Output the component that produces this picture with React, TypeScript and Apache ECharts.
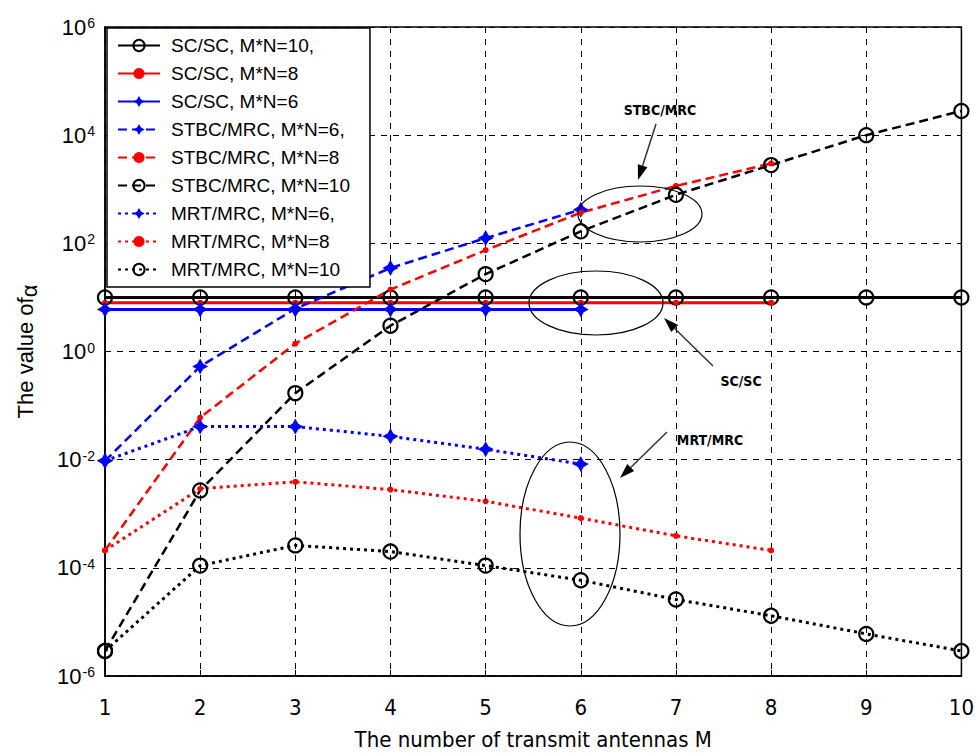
import React, { useEffect, useRef } from "react";
import * as echarts from "echarts";

const M = [1, 2, 3, 4, 5, 6, 7, 8, 9, 10];
const xTicks = ["1", "2", "3", "4", "5", "6", "7", "8", "9", "10"];

const scsc10 = [10, 10, 10, 10, 10, 10, 10, 10, 10, 10];
const scsc8 = [8, 8, 8, 8, 8, 8, 8, 8];
const scsc6 = [6, 6, 6, 6, 6, 6];
const stbc6 = [0.0095, 0.53, 6.2, 35, 125, 420];
const stbc8 = [2.1e-4, 0.06, 1.4, 14, 75, 370, 1150, 3000];
const stbc10 = [2.9e-6, 0.0027, 0.17, 3, 27, 167, 790, 2800, 10000, 28000];
const mrt6 = [0.0095, 0.041, 0.041, 0.027, 0.0156, 0.0083];
const mrt8 = [2.1e-4, 0.0029, 0.0039, 0.0028, 0.0017, 8.3e-4, 3.9e-4, 2.1e-4];
const mrt10 = [2.9e-6, 1.1e-4, 2.6e-4, 2.0e-4, 1.1e-4, 5.9e-5, 2.6e-5, 1.3e-5, 6e-6, 2.9e-6];

const names = [
  "SC/SC, M*N=10,",
  "SC/SC, M*N=8",
  "SC/SC, M*N=6",
  "STBC/MRC, M*N=6,",
  "STBC/MRC, M*N=8",
  "STBC/MRC, M*N=10",
  "MRT/MRC, M*N=6,",
  "MRT/MRC, M*N=8",
  "MRT/MRC, M*N=10",
];

const STAR = "path://M0,-10 L3.6,-3.6 L10,0 L3.6,3.6 L0,10 L-3.6,3.6 L-10,0 L-3.6,-3.6 Z";
const NARROW = "'Liberation Sans Narrow', 'DejaVu Sans Condensed', 'Arial Narrow', sans-serif";
const SANS = "'Liberation Sans', Arial, sans-serif";

function pairs(vals: number[]) {
  return vals.map((v, i) => [M[i], v]);
}

function arrow(x1: number, y1: number, x2: number, y2: number) {
  const dx = x2 - x1;
  const dy = y2 - y1;
  const len = Math.sqrt(dx * dx + dy * dy);
  const ux = dx / len;
  const uy = dy / len;
  const hl = 15;
  const hw = 5;
  const bx = x2 - ux * hl;
  const by = y2 - uy * hl;
  return [
    { type: "line", shape: { x1, y1, x2: bx, y2: by }, style: { stroke: "#333", lineWidth: 1.5 } },
    {
      type: "polygon",
      shape: { points: [[x2, y2], [bx - uy * hw, by + ux * hw], [bx + uy * hw, by - ux * hw]] },
      style: { fill: "#000" },
    },
  ];
}

export default function App() {
  const ref = useRef<HTMLDivElement>(null);
  useEffect(() => {
    if (!ref.current) return;
    const chart = echarts.init(ref.current, null, { renderer: "svg" });

    const blackCircle = {
      symbol: "circle",
      symbolSize: 14,
      itemStyle: { color: "rgba(255,255,255,0)", borderColor: "#000", borderWidth: 2.2 },
    };
    const redDot = { symbol: "circle", symbolSize: 6, itemStyle: { color: "#ff0000" } };
    const blueStar = { symbol: STAR, symbolSize: 16, itemStyle: { color: "#0000ff" } };

    const solid = (c: string) => ({ color: c, width: 3, type: "solid" });
    const dashed = (c: string) => ({ color: c, width: 2.5, type: [9, 5] });
    const dotted = (c: string) => ({ color: c, width: 3, type: [3, 4] });

    const mk = (name: string, vals: number[], sym: any, ls: any) => ({
      name,
      type: "line",
      data: pairs(vals),
      showSymbol: true,
      ...sym,
      lineStyle: ls,
      emphasis: { disabled: true },
    });

    const series = [
      mk(names[0], scsc10, blackCircle, solid("#000")),
      mk(names[1], scsc8, redDot, solid("#ff0000")),
      mk(names[2], scsc6, blueStar, solid("#0000ff")),
      mk(names[3], stbc6, blueStar, dashed("#0000ff")),
      mk(names[4], stbc8, redDot, dashed("#ff0000")),
      mk(names[5], stbc10, blackCircle, dashed("#000")),
      mk(names[6], mrt6, blueStar, dotted("#0000ff")),
      mk(names[7], mrt8, redDot, dotted("#ff0000")),
      mk(names[8], mrt10, blackCircle, dotted("#000")),
    ];

    const option: any = {
      animation: false,
      backgroundColor: "#fff",
      grid: {
        left: 105,
        top: 27,
        width: 857,
        height: 658,
        show: true,
        borderColor: "#000",
        borderWidth: 1.5,
        containLabel: false,
      },
      legend: {
        orient: "vertical",
        left: 107,
        top: 28,
        padding: [8, 20, 8, 10],
        itemWidth: 42,
        itemHeight: 14,
        itemGap: 9,
        backgroundColor: "#fff",
        borderColor: "#000",
        borderWidth: 1.5,
        selectedMode: false,
        data: names,
        textStyle: { fontFamily: SANS, fontSize: 19, color: "#000", padding: [0, 0, 0, 6] },
      },
      xAxis: {
        type: "value",
        min: 1,
        max: 10,
        interval: 1,
        name: "The number of transmit antennas M",
        nameLocation: "middle",
        nameGap: 52,
        nameTextStyle: { fontFamily: NARROW, fontSize: 22, color: "#000" },
        axisLine: { lineStyle: { color: "#000", width: 1.5 } },
        axisTick: { inside: true, length: 6, lineStyle: { color: "#000" } },
        axisLabel: {
          fontFamily: NARROW,
          fontSize: 22,
          color: "#000",
          margin: 20,
          formatter: (v: number) => xTicks[M.indexOf(v)] ?? "",
        },
        splitLine: { show: true, lineStyle: { color: "#000", type: [6, 6], width: 1 } },
      },
      yAxis: {
        type: "log",
        logBase: 100,
        min: 1e-6,
        max: 1e6,
        splitNumber: 6,
        name: "The value of{a|α}",
        nameLocation: "middle",
        nameGap: 65,
        nameRotate: 90,
        nameTextStyle: {
          fontFamily: SANS,
          fontSize: 22,
          color: "#000",
          rich: { a: { fontSize: 22, fontFamily: SANS, padding: [8, 0, 0, 0] } },
        },
        axisLine: { lineStyle: { color: "#000", width: 1.5 } },
        axisTick: { inside: true, length: 6, lineStyle: { color: "#000" } },
        axisLabel: {
          color: "#000",
          margin: 10,
          formatter: (v: number) => {
            const e = Math.round(Math.log10(v));
            return "{b|10}{s|" + e + "}";
          },
          rich: {
            b: { fontFamily: SANS, fontSize: 22, color: "#000", lineHeight: 22, verticalAlign: "bottom" },
            s: { fontFamily: SANS, fontSize: 14, color: "#000", lineHeight: 14, verticalAlign: "top", padding: [0, 0, 11, 1] },
          },
        },
        splitLine: { show: true, lineStyle: { color: "#000", type: [6, 6], width: 1 } },
      },
      series,
      graphic: [
        { type: "ellipse", shape: { cx: 640, cy: 214, rx: 62, ry: 28 }, style: { fill: "none", stroke: "#000", lineWidth: 1.2 }, z: 100 },
        { type: "ellipse", shape: { cx: 596, cy: 303, rx: 67, ry: 32 }, style: { fill: "none", stroke: "#000", lineWidth: 1.2 }, z: 100 },
        { type: "ellipse", shape: { cx: 570, cy: 534, rx: 50, ry: 92 }, style: { fill: "none", stroke: "#000", lineWidth: 1.2 }, z: 100 },
        ...arrow(656, 124, 638, 180).map((g) => ({ ...g, z: 100 })),
        ...arrow(713, 366, 664, 318).map((g) => ({ ...g, z: 100 })),
        ...arrow(667, 432, 620, 478).map((g) => ({ ...g, z: 100 })),
        { type: "text", x: 660, y: 110, z: 100, style: { text: "STBC/MRC", fontFamily: NARROW, fontSize: 14, fontWeight: "bold", fill: "#000", align: "center", verticalAlign: "middle" } },
        { type: "text", x: 741, y: 381, z: 100, style: { text: "SC/SC", fontFamily: NARROW, fontSize: 14, fontWeight: "bold", fill: "#000", align: "center", verticalAlign: "middle" } },
        { type: "text", x: 710, y: 440, z: 100, style: { text: "MRT/MRC", fontFamily: NARROW, fontSize: 14, fontWeight: "bold", fill: "#000", align: "center", verticalAlign: "middle" } },
      ],
    };
    chart.setOption(option);
    return () => chart.dispose();
  }, []);
  return (
    <div
      ref={ref}
      style={{ position: "absolute", left: 0, top: 0, width: 977, height: 755, background: "#fff" }}
    />
  );
}
